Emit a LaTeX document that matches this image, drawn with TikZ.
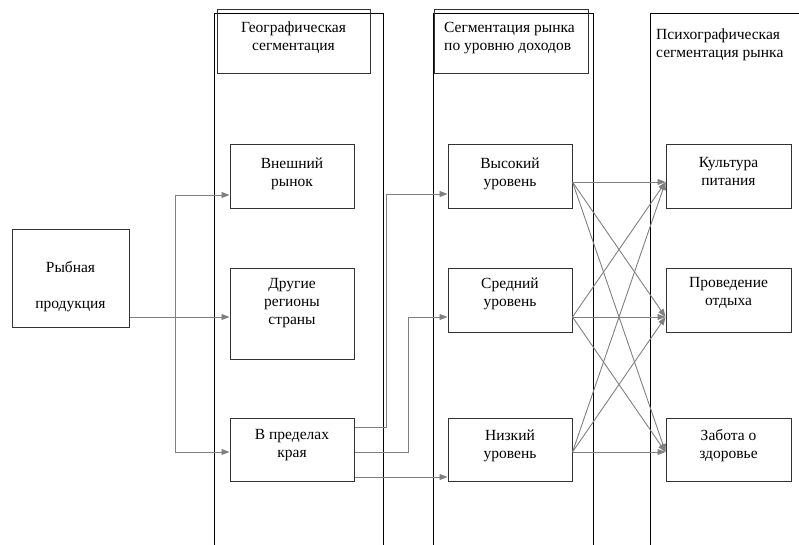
\documentclass[tikz,border=0pt]{standalone}
\usepackage{fontspec}
\setmainfont{Liberation Serif}
\usetikzlibrary{positioning,arrows.meta}

\tikzset{
  kasten/.style={draw=black!80, line width=1pt, inner sep=0pt},
  spalte/.style={draw=black, line width=1pt},
  txt/.style={align=center, inner sep=0pt, font=\fontsize{15.5}{18}\selectfont},
  pfeil/.style={draw=black!50, line width=0.9pt, -{Triangle[length=8pt,width=6pt]}},
  linie/.style={draw=black!50, line width=0.9pt}
}

\begin{document}
\begin{tikzpicture}[x=1pt,y=-1pt]
	
	\useasboundingbox (0,0) rectangle (799,545);
	
	% Spalten (Rahmen)
	\draw[spalte] (214,545) -- (214,14) -- (383,14) -- (383,545);
	\draw[spalte] (433,545) -- (433,14) -- (593,14) -- (593,545);
	\draw[spalte] (650,545) -- (650,14) -- (799,14);
	
	% Kopfkaesten
	\node[kasten, minimum width=153, minimum height=64] (geo) at (293.5,42) {};
	\node[kasten, minimum width=154, minimum height=64] (dohod) at (511,42) {};
	
	\node[txt, below=12pt of geo.north] (geo-t) {Географическая\\сегментация};
	\node[txt, align=left, anchor=north west] (dohod-t) at (444,22) {Сегментация рынка\\по уровню доходов};
	\node[txt, align=left, anchor=north west] (psych-t) at (656,29) {Психографическая\\сегментация рынка};
	
	% Ausgangskasten
	\node[kasten, minimum width=117, minimum height=98] (ryba) at (70.5,278) {};
	\node[txt, below=33pt of ryba.north] (ryba-t) {Рыбная\\[18pt]продукция};
	
	% Geografische Segmente
	\node[kasten, minimum width=124, minimum height=64] (vneshn) at (292,177) {};
	\node[txt, below=13pt of vneshn.north] (vneshn-t) {Внешний\\рынок};
	\node[kasten, minimum width=124, minimum height=91] (drugie) at (292,313.5) {};
	\node[txt, below=11pt of drugie.north] (drugie-t) {Другие\\регионы\\страны};
	\node[kasten, minimum width=124, minimum height=63] (kraj) at (292,449.5) {};
	\node[txt, below=12pt of kraj.north] (kraj-t) {В пределах\\края};
	
	% Einkommenssegmente
	\node[kasten, minimum width=124, minimum height=64] (vys) at (510,177) {};
	\node[txt, below=13pt of vys.north] (vys-t) {Высокий\\уровень};
	\node[kasten, minimum width=124, minimum height=64] (sred) at (510,300) {};
	\node[txt, below=10pt of sred.north] (sred-t) {Средний\\уровень};
	\node[kasten, minimum width=124, minimum height=63] (nizk) at (510,449.5) {};
	\node[txt, below=12pt of nizk.north] (nizk-t) {Низкий\\уровень};
	
	% Psychografische Segmente
	\node[kasten, minimum width=125, minimum height=64] (kult) at (728.5,177) {};
	\node[txt, below=13pt of kult.north] (kult-t) {Культура\\питания};
	\node[kasten, minimum width=125, minimum height=64] (otdyh) at (728.5,300) {};
	\node[txt, below=10pt of otdyh.north] (otdyh-t) {Проведение\\отдыха};
	\node[kasten, minimum width=125, minimum height=63] (zabota) at (728.5,449.5) {};
	\node[txt, below=12pt of zabota.north] (zabota-t) {Забота о\\здоровье};
	
	% Verzweigung von der Produktion
	\coordinate (verzw) at (175,317);
	\draw[pfeil] ([yshift=-39pt]ryba.east) -- ([yshift=-3.5pt]drugie.west);
	\draw[linie] (verzw) -- (175,195);
	\draw[pfeil] (verzw) |- ([yshift=-18pt]vneshn.west);
	\draw[pfeil] (verzw) |- ([yshift=-2.5pt]kraj.west);
	
	% vom Kraj zu den Einkommensstufen
	\draw[pfeil] ([yshift=22.5pt]kraj.east) -- ++(32,0) |- ([yshift=-17pt]vys.west);
	\draw[pfeil] ([yshift=-2.5pt]kraj.east) -- ++(54,0) |- ([yshift=-17pt]sred.west);
	\draw[pfeil] ([yshift=-27.5pt]kraj.east) -- ([yshift=-27.5pt]nizk.west);
	
	% Kreuzverbindungen
	\coordinate (vys-r) at ([yshift=-5pt]vys.east);
	\coordinate (sred-r) at ([yshift=-17pt]sred.east);
	\coordinate (nizk-r) at ([yshift=-2.5pt]nizk.east);
	\coordinate (kult-l) at ([yshift=-5pt]kult.west);
	\coordinate (otdyh-l) at ([yshift=-17pt]otdyh.west);
	\coordinate (zabota-l) at ([yshift=-2.5pt]zabota.west);
	\foreach \a in {vys,sred,nizk}
		\foreach \b in {kult,otdyh,zabota}
			\draw[pfeil] (\a-r) -- (\b-l);
	
\end{tikzpicture}
\end{document}
